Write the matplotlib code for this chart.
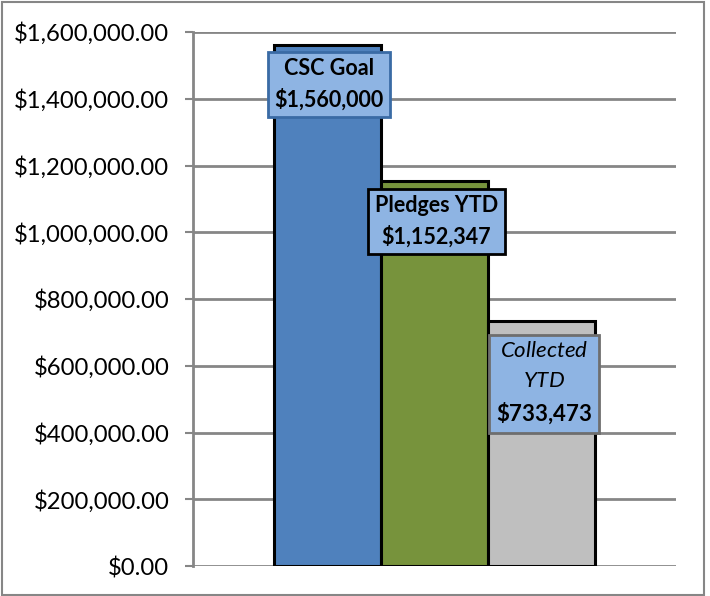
import matplotlib.pyplot as plt
from matplotlib.patches import Rectangle
from matplotlib.ticker import FuncFormatter

# data
series = ['CSC Goal', 'Pledges YTD', 'Collected YTD']
values = [1560000, 1152347, 733473]
bar_colors = ['#4F81BD', '#77933C', '#BFBFBF']
box_edges = ['#3A6BA5', '#000000', '#6E6E6E']
y_ticks = [0, 200000, 400000, 600000, 800000, 1000000, 1200000, 1400000, 1600000]

plt.rcParams['font.family'] = ['Lato', 'DejaVu Sans']
plt.rcParams['mathtext.fontset'] = 'custom'
plt.rcParams['mathtext.rm'] = 'Lato'
plt.rcParams['mathtext.it'] = 'Lato:italic'
plt.rcParams['mathtext.bf'] = 'Lato:bold'

fig = plt.figure(figsize=(7.1, 5.96), dpi=100)
ax = fig.add_axes([193 / 710, 30 / 596, 483 / 710, 534 / 596])

xs = list(range(len(values)))
ax.bar(xs, values, width=1.0, color=bar_colors, edgecolor='black', linewidth=2.2, zorder=3)

ax.set_xlim(-1.264, 3.264)
ax.set_ylim(0, 1600000)
ax.set_yticks(y_ticks)
ax.yaxis.set_major_formatter(FuncFormatter(lambda v, p: f'${v:,.2f}'))
ax.tick_params(axis='y', length=6, width=1.5, color='#868686', pad=11, labelsize=17.2)
ax.set_xticks([])
ax.grid(axis='y', color='#868686', linewidth=2, zorder=0)

for s in ['top', 'right', 'bottom']:
    ax.spines[s].set_visible(False)
ax.spines['left'].set_color('#868686')
ax.spines['left'].set_linewidth(2)

# label boxes
label_offsets = [(1, -13), (2, -14), (3, -19)]
sizes = [15.5, 15.5, 16]
for i, (name, v) in enumerate(zip(series, values)):
    if i == 2:
        word1, word2 = name.split(' ')
        amount = f'{v:,}'
        txt = (r'$\it{' + word1 + r'}$' + '\n' + r'$\it{' + word2 + r'}$' + '\n'
               + r'$\bf{\$' + amount.replace(',', '{,}') + r'}$')
    else:
        txt = f'{name}\n${v:,}'
    ax.annotate(txt, (xs[i], v), xytext=label_offsets[i],
                textcoords='offset pixels', ha='center', va='top',
                fontsize=sizes[i], fontweight='bold', linespacing=1.5, zorder=5,
                bbox=dict(boxstyle='square,pad=0.3', fc='#8EB4E3', ec=box_edges[i], lw=2))

fig.patches.append(Rectangle((0.003, 0.002), 0.988, 0.994, transform=fig.transFigure,
                             fill=False, ec='#868686', lw=1.5))

fig.savefig('out.png', dpi=100)
